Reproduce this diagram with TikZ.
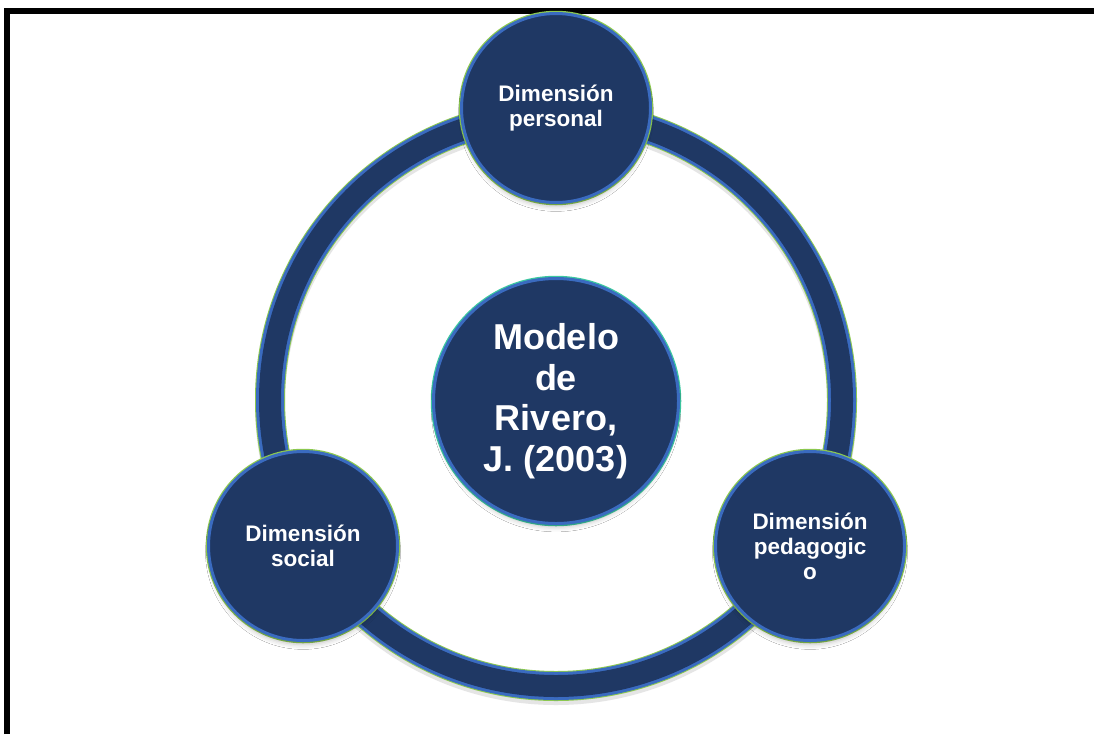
\documentclass[tikz,border=0pt]{standalone}
\usepackage{fontspec}
\setmainfont{Liberation Sans}
\usetikzlibrary{shadows.blur}
\definecolor{navy}{HTML}{1F3864}
\definecolor{edgeblue}{HTML}{3A6BC0}
\definecolor{edgegreen}{HTML}{8CC850}
\definecolor{edgeteal}{HTML}{3CC8A0}
\tikzset{
  dimbox/.style={circle, minimum size=189pt, inner sep=0pt, fill=navy,
    draw=edgeblue, line width=3pt, text=white, align=center,
    font=\bfseries\fontsize{22.5}{25}\selectfont,
    preaction={draw=edgegreen, line width=5.5pt},
    blur shadow={shadow xshift=0pt, shadow yshift=-6pt, shadow blur radius=5pt, shadow opacity=25, shadow scale=0.98}},
  corebox/.style={circle, minimum size=245pt, inner sep=0pt, fill=navy,
    draw=edgeblue, line width=3pt, text=white, align=center,
    font=\bfseries\fontsize{36}{40.5}\selectfont,
    preaction={draw=edgeteal, line width=5.5pt},
    blur shadow={shadow xshift=0pt, shadow yshift=-6pt, shadow blur radius=5pt, shadow opacity=25, shadow scale=0.98}},
}
\begin{document}
\begin{tikzpicture}[x=1pt,y=-1pt]
\useasboundingbox (0,0) rectangle (1094,734);
\fill[white] (0,0) rectangle (1094,734);
\draw[line width=6pt] (7,734) -- (7,11) -- (1094,11);
\coordinate (c) at (556,400);
% ring
\draw[black!20, line width=30pt, opacity=0.5] ([yshift=-4pt]c) circle[radius=286];
\draw[edgegreen, line width=30pt] (c) circle[radius=286];
\draw[edgeblue, line width=28pt] (c) circle[radius=286];
\draw[navy, line width=22pt] (c) circle[radius=286];
% nodes
\node[corebox] (core) at (556,401) {Modelo\\de\\Rivero,\\J. (2003)};
\node[dimbox] (pers) at (556,108) {Dimensión\\personal};
\node[dimbox] (soc) at (303,546) {Dimensión\\social};
\node[dimbox] (ped) at (810,546) {Dimensión\\pedagogic\\o};
\end{tikzpicture}
\end{document}
